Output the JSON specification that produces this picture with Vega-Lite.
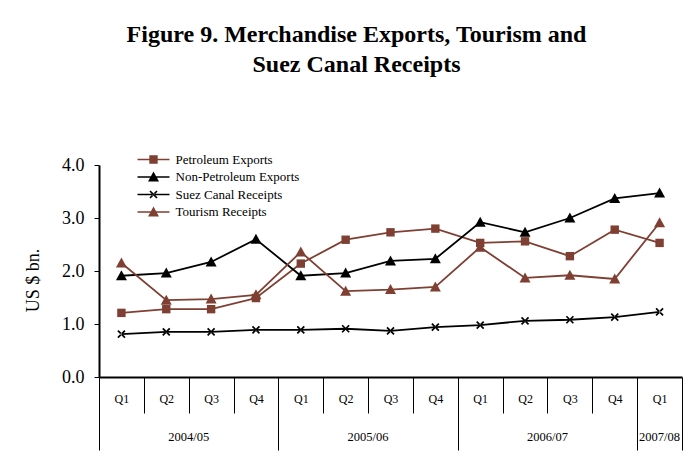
{
  "$schema": "https://vega.github.io/schema/vega-lite/v6.json",
  "autosize": {"type": "none"},
  "width": 583,
  "height": 212,
  "padding": {"left": 99, "top": 165, "right": 12, "bottom": 79},
  "background": "white",
  "title": {
    "text": ["Figure 9. Merchandise Exports, Tourism and", "Suez Canal Receipts"],
    "font": "Liberation Serif",
    "fontSize": 24,
    "fontWeight": "bold",
    "color": "#000000",
    "anchor": "middle",
    "lineHeight": 30,
    "dx": -34,
    "dy": -72
  },
  "config": {
    "view": {"stroke": null},
    "axis": {
      "labelFont": "Liberation Serif",
      "titleFont": "Liberation Serif",
      "labelColor": "#000000",
      "titleColor": "#000000",
      "tickColor": "#000000",
      "domainColor": "#000000",
      "grid": false
    },
    "legend": {
      "labelFont": "Liberation Serif",
      "labelFontSize": 13,
      "labelColor": "#000000"
    }
  },
  "data": {
    "values": [
      {"period": "2004/05 Q1", "series": "Petroleum Exports", "value": 1.21},
      {"period": "2004/05 Q2", "series": "Petroleum Exports", "value": 1.28},
      {"period": "2004/05 Q3", "series": "Petroleum Exports", "value": 1.28},
      {"period": "2004/05 Q4", "series": "Petroleum Exports", "value": 1.49},
      {"period": "2005/06 Q1", "series": "Petroleum Exports", "value": 2.14},
      {"period": "2005/06 Q2", "series": "Petroleum Exports", "value": 2.59},
      {"period": "2005/06 Q3", "series": "Petroleum Exports", "value": 2.73},
      {"period": "2005/06 Q4", "series": "Petroleum Exports", "value": 2.80},
      {"period": "2006/07 Q1", "series": "Petroleum Exports", "value": 2.53},
      {"period": "2006/07 Q2", "series": "Petroleum Exports", "value": 2.56},
      {"period": "2006/07 Q3", "series": "Petroleum Exports", "value": 2.28},
      {"period": "2006/07 Q4", "series": "Petroleum Exports", "value": 2.78},
      {"period": "2007/08 Q1", "series": "Petroleum Exports", "value": 2.53},
      {"period": "2004/05 Q1", "series": "Non-Petroleum Exports", "value": 1.91},
      {"period": "2004/05 Q2", "series": "Non-Petroleum Exports", "value": 1.96},
      {"period": "2004/05 Q3", "series": "Non-Petroleum Exports", "value": 2.17},
      {"period": "2004/05 Q4", "series": "Non-Petroleum Exports", "value": 2.60},
      {"period": "2005/06 Q1", "series": "Non-Petroleum Exports", "value": 1.91},
      {"period": "2005/06 Q2", "series": "Non-Petroleum Exports", "value": 1.96},
      {"period": "2005/06 Q3", "series": "Non-Petroleum Exports", "value": 2.19},
      {"period": "2005/06 Q4", "series": "Non-Petroleum Exports", "value": 2.23},
      {"period": "2006/07 Q1", "series": "Non-Petroleum Exports", "value": 2.92},
      {"period": "2006/07 Q2", "series": "Non-Petroleum Exports", "value": 2.73},
      {"period": "2006/07 Q3", "series": "Non-Petroleum Exports", "value": 3.00},
      {"period": "2006/07 Q4", "series": "Non-Petroleum Exports", "value": 3.37},
      {"period": "2007/08 Q1", "series": "Non-Petroleum Exports", "value": 3.47},
      {"period": "2004/05 Q1", "series": "Suez Canal Receipts", "value": 0.81},
      {"period": "2004/05 Q2", "series": "Suez Canal Receipts", "value": 0.85},
      {"period": "2004/05 Q3", "series": "Suez Canal Receipts", "value": 0.85},
      {"period": "2004/05 Q4", "series": "Suez Canal Receipts", "value": 0.89},
      {"period": "2005/06 Q1", "series": "Suez Canal Receipts", "value": 0.89},
      {"period": "2005/06 Q2", "series": "Suez Canal Receipts", "value": 0.91},
      {"period": "2005/06 Q3", "series": "Suez Canal Receipts", "value": 0.87},
      {"period": "2005/06 Q4", "series": "Suez Canal Receipts", "value": 0.94},
      {"period": "2006/07 Q1", "series": "Suez Canal Receipts", "value": 0.98},
      {"period": "2006/07 Q2", "series": "Suez Canal Receipts", "value": 1.06},
      {"period": "2006/07 Q3", "series": "Suez Canal Receipts", "value": 1.08},
      {"period": "2006/07 Q4", "series": "Suez Canal Receipts", "value": 1.13},
      {"period": "2007/08 Q1", "series": "Suez Canal Receipts", "value": 1.23},
      {"period": "2004/05 Q1", "series": "Tourism Receipts", "value": 2.15},
      {"period": "2004/05 Q2", "series": "Tourism Receipts", "value": 1.45},
      {"period": "2004/05 Q3", "series": "Tourism Receipts", "value": 1.47},
      {"period": "2004/05 Q4", "series": "Tourism Receipts", "value": 1.55},
      {"period": "2005/06 Q1", "series": "Tourism Receipts", "value": 2.36},
      {"period": "2005/06 Q2", "series": "Tourism Receipts", "value": 1.62},
      {"period": "2005/06 Q3", "series": "Tourism Receipts", "value": 1.65},
      {"period": "2005/06 Q4", "series": "Tourism Receipts", "value": 1.70},
      {"period": "2006/07 Q1", "series": "Tourism Receipts", "value": 2.45},
      {"period": "2006/07 Q2", "series": "Tourism Receipts", "value": 1.87},
      {"period": "2006/07 Q3", "series": "Tourism Receipts", "value": 1.92},
      {"period": "2006/07 Q4", "series": "Tourism Receipts", "value": 1.85},
      {"period": "2007/08 Q1", "series": "Tourism Receipts", "value": 2.91}
    ]
  },
  "resolve": {"axis": {"x": "independent"}},
  "layer": [
    {
      "mark": {"type": "line", "strokeWidth": 1.8},
      "encoding": {
        "x": {
          "field": "period",
          "type": "ordinal",
          "scale": {"type": "band", "paddingInner": 0, "paddingOuter": 0},
          "axis": {
            "orient": "bottom",
            "title": null,
            "tickBand": "extent",
            "tickSize": {"condition": {"test": "!datum.value || datum.value === '2004/05 Q4' || datum.value === '2005/06 Q4' || datum.value === '2006/07 Q4' || datum.value === '2007/08 Q1'", "value": 73}, "value": 36},
            "tickWidth": 1,
            "domainWidth": 2,
            "labelAngle": 0,
            "labelFontSize": 12,
            "labelPadding": {"condition": {"test": "!datum.value || datum.value === '2004/05 Q4' || datum.value === '2005/06 Q4' || datum.value === '2006/07 Q4' || datum.value === '2007/08 Q1'", "value": -57}, "value": -20},
            "labelExpr": "split(datum.label, ' ')[1]"
          }
        },
        "y": {
          "field": "value",
          "type": "quantitative",
          "scale": {"domain": [0, 4], "nice": false},
          "axis": {
            "title": "US $ bn.",
            "titleFontSize": 18,
            "titleFontWeight": "normal",
            "titleAngle": 270,
            "titleAlign": "center",
            "titleBaseline": "alphabetic",
            "titleX": -61,
            "titleY": 115,
            "values": [0, 1, 2, 3, 4],
            "format": ".1f",
            "tickSize": 5,
            "tickWidth": 1,
            "domainWidth": 2,
            "labelFontSize": 18,
            "labelPadding": 10
          }
        },
        "stroke": {
          "field": "series",
          "type": "nominal",
          "scale": {"range": ["#000000", "#7f3f33", "#000000", "#7f3f33"]},
          "legend": null
        }
      }
    },
    {
      "mark": {"type": "point", "filled": true, "size": 400, "opacity": 1},
      "encoding": {
        "x": {
          "field": "period",
          "type": "ordinal",
          "axis": {
            "orient": "bottom",
            "offset": 0,
            "title": null,
            "values": ["2004/05 Q2", "2005/06 Q2", "2006/07 Q2", "2007/08 Q1"],
            "tickSize": 73,
            "tickOpacity": 0,
            "domain": false,
            "labelAngle": 0,
            "labelFontSize": 12.5,
            "labelPadding": -20,
            "labelOffset": {"condition": {"test": "datum.value === '2007/08 Q1'", "value": 0}, "value": 22.4},
            "labelExpr": "split(datum.label, ' ')[0]"
          }
        },
        "y": {"field": "value", "type": "quantitative"},
        "color": {
          "field": "series",
          "type": "nominal",
          "scale": {
            "domain": ["Petroleum Exports", "Non-Petroleum Exports", "Suez Canal Receipts", "Tourism Receipts"],
            "range": ["#7f3f33", "#000000", "#000000", "#7f3f33"]
          },
          "legend": {
            "title": null,
            "orient": "none",
            "legendX": 48,
            "legendY": -12,
            "padding": 0,
            "labelFont": "Liberation Serif",
            "labelFontSize": 13,
            "labelColor": "#000000",
            "labelOffset": 15.5,
            "rowPadding": 3.5,
            "symbolSize": 100,
            "symbolStrokeWidth": 0,
            "symbolOpacity": 1,
            "encode": {
              "labels": {
                "update": {
                  "font": {"value": "Liberation Serif"},
                  "fontSize": {"value": 13},
                  "fill": {"value": "#000000"}
                }
              },
              "symbols": {
                "update": {
                  "shape": {
                    "signal": "datum.value === 'Petroleum Exports' ? 'M-3.2,-0.16H3.2V0.16H-3.2ZM-0.84,-0.84H0.84V0.84H-0.84Z' : datum.value === 'Suez Canal Receipts' ? 'M-3.2,-0.16H3.2V0.16H-3.2ZM-0.58,-0.82L0.82,0.58L0.58,0.82L-0.82,-0.58ZM-0.58,0.82L0.82,-0.58L0.58,-0.82L-0.82,0.58Z' : 'M-3.2,-0.16H3.2V0.16H-3.2ZM0,-1.1L1.1,0.9H-1.1Z'"
                  }
                }
              }
            }
          }
        },
        "shape": {
          "field": "series",
          "type": "nominal",
          "scale": {
            "range": [
              "M0,-0.55L0.55,0.45H-0.55Z",
              "M-0.42,-0.42H0.42V0.42H-0.42Z",
              "M-0.29,-0.41L0.41,0.29L0.29,0.41L-0.41,-0.29ZM-0.29,0.41L0.41,-0.29L0.29,-0.41L-0.41,0.29Z",
              "M0,-0.55L0.55,0.45H-0.55Z"
            ]
          },
          "legend": null
        }
      }
    }
  ]
}
